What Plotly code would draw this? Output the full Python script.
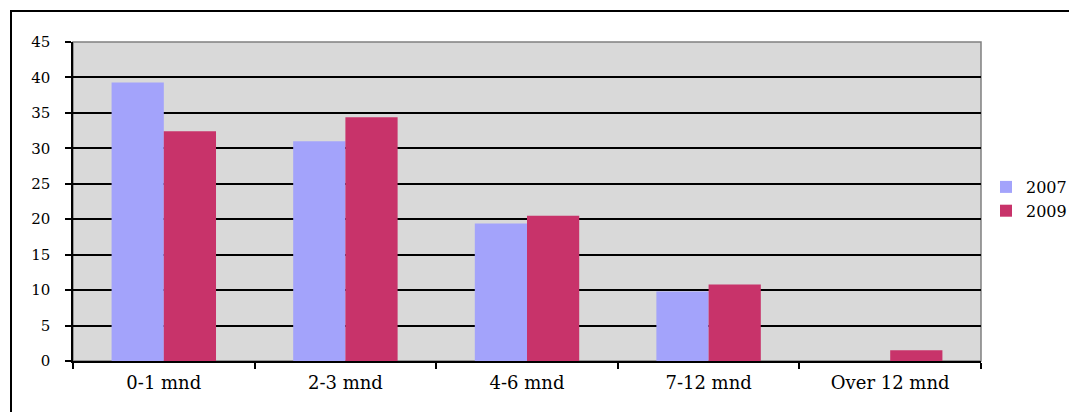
import plotly.graph_objects as go

categories = ["0-1 mnd", "2-3 mnd", "4-6 mnd", "7-12 mnd", "Over 12 mnd"]
series_names = ["2007", "2009"]
values_2007 = [39.3, 31.0, 19.4, 9.8, 0.0]
values_2009 = [32.4, 34.4, 20.5, 10.8, 1.5]
y_ticks = [0, 5, 10, 15, 20, 25, 30, 35, 40, 45]

colors = ["#a3a3fb", "#c8336a"]

fig = go.Figure()
for name, vals, col in zip(series_names, [values_2007, values_2009], colors):
    fig.add_trace(go.Bar(x=categories, y=vals, name=name, marker=dict(color=col, line=dict(width=0))))

W, H = 1069, 412
L, R, T, B = 73, 88, 42, 51
pw, ph = W - L - R, H - T - B

def px_x(x):
    return (x - L) / pw

def px_y(y):
    return (H - B - y) / ph

FONT = "DejaVu Serif, Liberation Serif, serif"

fig.update_layout(
    width=W, height=H,
    margin=dict(l=L, r=R, t=T, b=B, autoexpand=False),
    paper_bgcolor="white",
    plot_bgcolor="#d9d9d9",
    barmode="group",
    bargap=0.425,
    bargroupgap=0,
    font=dict(family=FONT, size=16, color="black"),
    showlegend=True,
    legend=dict(x=px_x(986), y=px_y(170), xanchor="left", yanchor="top",
                bgcolor="rgba(0,0,0,0)", font=dict(family=FONT, size=16),
                itemwidth=30, tracegroupgap=0),
    xaxis=dict(
        type="category", tickson="boundaries", ticks="outside", ticklen=6,
        tickcolor="black", tickwidth=1.5, showline=True, linecolor="black", linewidth=1.5,
        mirror=False, showgrid=False, tickfont=dict(family=FONT, size=18),
        ticklabelstandoff=5,
    ),
    yaxis=dict(
        range=[0, 45], tickvals=y_ticks, ticks="outside", ticklen=6,
        tickcolor="black", tickwidth=1.5, showline=True, linecolor="black", linewidth=1.5,
        showgrid=True, gridcolor="black", gridwidth=1.5, zeroline=False,
        tickfont=dict(family=FONT, size=15), ticklabelstandoff=12,
    ),
)

fig.add_shape(type="rect", xref="paper", yref="paper", x0=0, x1=1, y0=0, y1=1,
              line=dict(color="#808080", width=1.5), layer="below")
fig.add_shape(type="rect", xref="paper", yref="paper",
              x0=px_x(11), x1=px_x(1080), y0=px_y(430), y1=px_y(11),
              line=dict(color="black", width=2))

fig.write_html("out.html")
